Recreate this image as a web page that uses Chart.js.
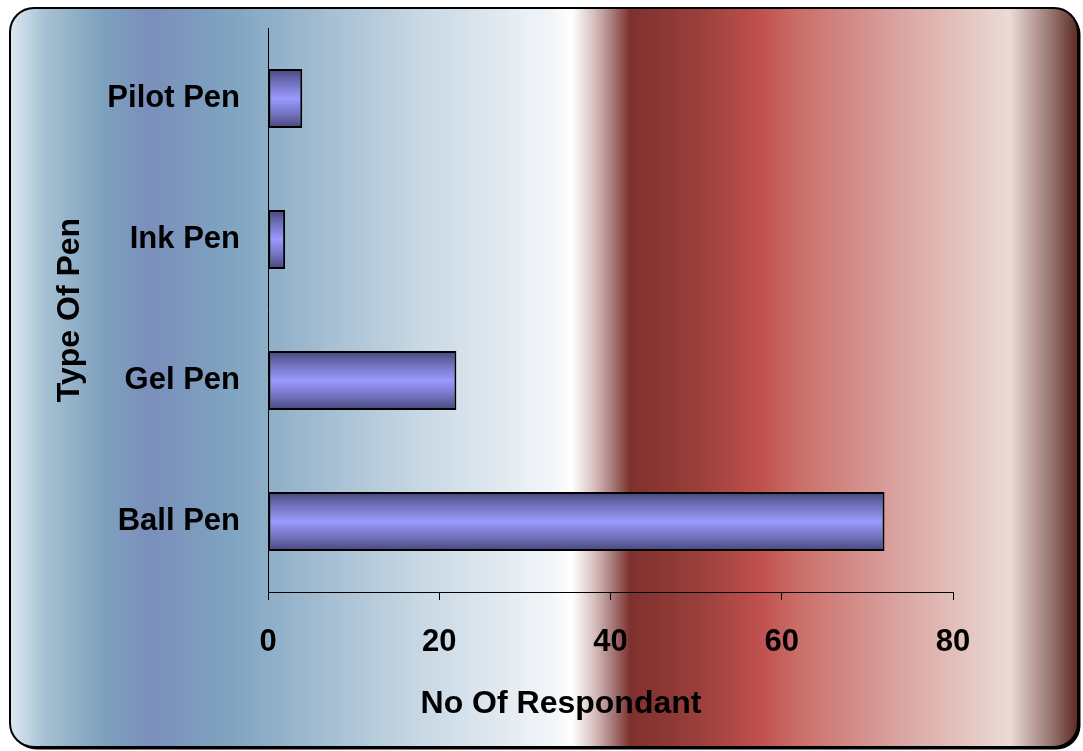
<!DOCTYPE html>
<html>
<head>
<meta charset="utf-8">
<script src="https://cdn.jsdelivr.net/npm/chart.js@4"></script>
<style>
  html, body { margin: 0; padding: 0; background: #ffffff; }
  #wrap { width: 1083px; height: 751px; position: relative; }
</style>
</head>
<body>
<div id="wrap"><canvas id="chart" width="1083" height="751"></canvas></div>
<script>
// Pen types (top to bottom) and the number of respondents for each
const categories = ['Pilot Pen', 'Ink Pen', 'Gel Pen', 'Ball Pen'];
const respondents = [4, 2, 22, 72];
const xTicks = [0, 20, 40, 60, 80];
const xTitle = 'No Of Respondant';
const yTitle = 'Type Of Pen';

const FONT = '"Liberation Sans", Arial, sans-serif';
const BAR_FRACTION = 0.42;

// Rounded frame with horizontal multi-stop gradient and a dark drop shadow
const framePlugin = {
  id: 'frame',
  beforeDraw(chart) {
    const ctx = chart.ctx;
    const x = 10, y = 8, w = 1068, h = 739, r = 24;
    const path = () => {
      ctx.beginPath();
      ctx.roundRect(x, y, w, h, r);
    };
    ctx.save();
    // shadow
    ctx.translate(2.5, 2.5);
    path();
    ctx.fillStyle = '#000000';
    ctx.fill();
    ctx.restore();

    ctx.save();
    const g = ctx.createLinearGradient(x, 0, x + w, 0);
    const stops = [
      [0, '#dde9f1'], [35, '#a6c1d3'], [90, '#7fa2bf'], [140, '#7a8fbb'],
      [220, '#7fa4c0'], [400, '#c4d5e2'], [545, '#f3f6f9'], [562, '#ffffff'],
      [585, '#d6bcbc'], [605, '#a07070'], [620, '#7f302d'], [690, '#9a403c'],
      [750, '#c0504d'], [790, '#cb6f6a'], [890, '#daa4a1'], [1000, '#ebdbd5'],
      [1020, '#c2aaa6'], [1040, '#9a7872'], [1068, '#5a2a22']
    ];
    stops.forEach(([p, c]) => g.addColorStop(p / w, c));
    path();
    ctx.fillStyle = g;
    ctx.fill();
    ctx.lineWidth = 2;
    ctx.strokeStyle = '#000000';
    ctx.stroke();
    ctx.restore();
  }
};

// Axis titles placed in the margins
const titlePlugin = {
  id: 'axisTitles',
  afterDraw(chart) {
    const ctx = chart.ctx;
    ctx.save();
    ctx.fillStyle = '#000000';
    ctx.font = 'bold 32px ' + FONT;
    ctx.textAlign = 'center';
    ctx.textBaseline = 'middle';
    ctx.fillText(xTitle, 561, 704);
    ctx.translate(70, chart.chartArea.top + chart.chartArea.height / 2);
    ctx.rotate(-Math.PI / 2);
    ctx.fillText(yTitle, 0, 0);
    ctx.restore();
  }
};

// Light-in-the-middle shading across each bar's thickness
function barFill(context) {
  const chart = context.chart;
  if (!chart.chartArea || !chart.scales.y) return '#9999ff';
  const yScale = chart.scales.y;
  const center = yScale.getPixelForValue(context.dataIndex);
  const half = (yScale.height / categories.length) * BAR_FRACTION / 2;
  const g = chart.ctx.createLinearGradient(0, center - half, 0, center + half);
  g.addColorStop(0, '#45457a');
  g.addColorStop(0.22, '#6f6fba');
  g.addColorStop(0.5, '#9a9aff');
  g.addColorStop(0.78, '#6f6fba');
  g.addColorStop(1, '#45457a');
  return g;
}

new Chart(document.getElementById('chart'), {
  type: 'bar',
  data: {
    labels: categories,
    datasets: [{
      data: respondents,
      backgroundColor: barFill,
      borderColor: '#000000',
      borderWidth: 2,
      borderSkipped: false,
      barPercentage: BAR_FRACTION,
      categoryPercentage: 1
    }]
  },
  options: {
    indexAxis: 'y',
    responsive: false,
    animation: false,
    devicePixelRatio: 1,
    layout: { padding: { left: 10, top: 28, right: 130, bottom: 0 } },
    plugins: {
      legend: { display: false },
      tooltip: { enabled: false }
    },
    scales: {
      x: {
        type: 'linear',
        min: 0,
        max: 80,
        afterFit(scale) {
          scale.height = 159;
          scale.paddingLeft = 0; scale.paddingRight = 0;
          scale.paddingTop = 0; scale.paddingBottom = 0;
        },
        afterBuildTicks(scale) { scale.ticks = xTicks.map(v => ({ value: v })); },
        border: { display: true, color: '#000000', width: 1 },
        grid: { display: true, drawOnChartArea: false, drawTicks: true, tickLength: 8, color: '#000000', lineWidth: 1 },
        ticks: { color: '#000000', padding: 24, font: { family: FONT, size: 31, weight: 'bold' } }
      },
      y: {
        afterFit(scale) {
          scale.width = 258;
          scale.paddingLeft = 0; scale.paddingRight = 0;
          scale.paddingTop = 0; scale.paddingBottom = 0;
        },
        border: { display: true, color: '#000000', width: 1 },
        grid: { display: false, drawTicks: false },
        ticks: { color: '#000000', padding: 28, font: { family: FONT, size: 31, weight: 'bold' } }
      }
    }
  },
  plugins: [framePlugin, titlePlugin]
});
</script>
</body>
</html>
